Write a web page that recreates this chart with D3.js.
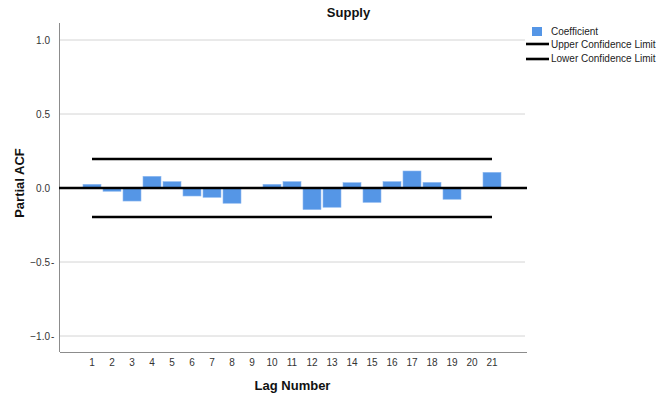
<!DOCTYPE html>
<html><head><meta charset="utf-8">
<script src="https://cdn.jsdelivr.net/npm/d3@7/dist/d3.min.js"></script>
<style>body{margin:0;background:#fff;} svg{display:block;font-family:"Liberation Sans",Arial,sans-serif;}</style>
</head><body><svg id="c" width="661" height="398"></svg>
<script>
const lags = [1,2,3,4,5,6,7,8,9,10,11,12,13,14,15,16,17,18,19,20,21];
const coefficient = [0.025,-0.022,-0.088,0.079,0.043,-0.054,-0.063,-0.103,0.002,0.025,0.043,-0.146,-0.130,0.036,-0.097,0.043,0.115,0.038,-0.076,0.001,0.106];
const upperLimit = 0.196;
const lowerLimit = -0.196;
const yTicks = [1.0, 0.5, 0.0, -0.5, -1.0];
const title = "Supply";
const legendItems = ["Coefficient","Upper Confidence Limit","Lower Confidence Limit"];

const svg = d3.select("#c");
const L = 60, R = 525, T = 23, B = 352;
const x = d3.scaleLinear().domain([-0.6, 22.65]).range([L, R]);
const y = d3.scaleLinear().domain([-1.108, 1.115]).range([B, T]);
const bw = 18;

// gridlines
svg.append("g").selectAll("line").data(yTicks.filter(d=>d!==0)).join("line")
  .attr("x1", L).attr("x2", R).attr("y1", d=>y(d)).attr("y2", d=>y(d))
  .attr("stroke", "#d4d4d4").attr("stroke-width", 1);

// axes lines
svg.append("line").attr("x1", L-0.5).attr("x2", L-0.5).attr("y1", T).attr("y2", B)
  .attr("stroke", "#8c8c8c").attr("stroke-width", 1);
svg.append("line").attr("x1", L).attr("x2", R+2).attr("y1", B+0.5).attr("y2", B+0.5)
  .attr("stroke", "#8c8c8c").attr("stroke-width", 1);

// y tick labels
const yl = svg.append("g").attr("font-size", 10).attr("fill", "#333");
yTicks.forEach(d => {
  const t = yl.append("text").attr("x", 50).attr("y", y(d)+3.5).attr("text-anchor","end")
    .text(d3.format(".1f")(d));
  if (d < 0) yl.append("text").attr("x", 51).attr("y", y(d)+3.5).text("-");
});

// bars
svg.append("g").selectAll("rect").data(lags).join("rect")
  .attr("x", (d)=>x(d)-bw/2)
  .attr("width", bw)
  .attr("y", (d,i)=>y(Math.max(0, coefficient[i])))
  .attr("height", (d,i)=>Math.abs(y(coefficient[i])-y(0)))
  .attr("fill", "#5596e6").attr("stroke", "#8fbaf0").attr("stroke-width", 0.6);

// zero line
svg.append("line").attr("x1", L-1).attr("x2", R+2).attr("y1", y(0)).attr("y2", y(0))
  .attr("stroke", "#000").attr("stroke-width", 2.6);

// confidence limits
[upperLimit, lowerLimit].forEach(v => {
  svg.append("line").attr("x1", x(lags[0])).attr("x2", x(lags[lags.length-1]))
    .attr("y1", y(v)).attr("y2", y(v)).attr("stroke", "#000").attr("stroke-width", 2.6);
});

// x tick labels
svg.append("g").attr("font-size", 10).attr("fill", "#333").selectAll("text").data(lags).join("text")
  .attr("x", d=>x(d)).attr("y", 366).attr("text-anchor","middle").text(d=>d);

// titles
svg.append("text").attr("x", 348.5).attr("y", 17).attr("text-anchor","middle")
  .attr("font-size", 13).attr("font-weight","bold").attr("fill","#111").text(title);
svg.append("text").attr("x", 292.5).attr("y", 390).attr("text-anchor","middle")
  .attr("font-size", 13).attr("font-weight","bold").attr("fill","#111").text("Lag Number");
svg.append("text").attr("transform", "translate(24,183) rotate(-90)").attr("text-anchor","middle")
  .attr("font-size", 13).attr("font-weight","bold").attr("fill","#111").text("Partial ACF");

// legend
const lg = svg.append("g").attr("font-size", 10).attr("fill", "#222");
lg.append("rect").attr("x", 532).attr("y", 27).attr("width", 10).attr("height", 9).attr("fill", "#5596e6");
lg.append("line").attr("x1", 526).attr("x2", 549).attr("y1", 44).attr("y2", 44).attr("stroke","#000").attr("stroke-width",2.6);
lg.append("line").attr("x1", 526).attr("x2", 549).attr("y1", 59).attr("y2", 59).attr("stroke","#000").attr("stroke-width",2.6);
[35, 48, 62].forEach((yy,i) => lg.append("text").attr("x", 551).attr("y", yy).text(legendItems[i]));
</script></body></html>
